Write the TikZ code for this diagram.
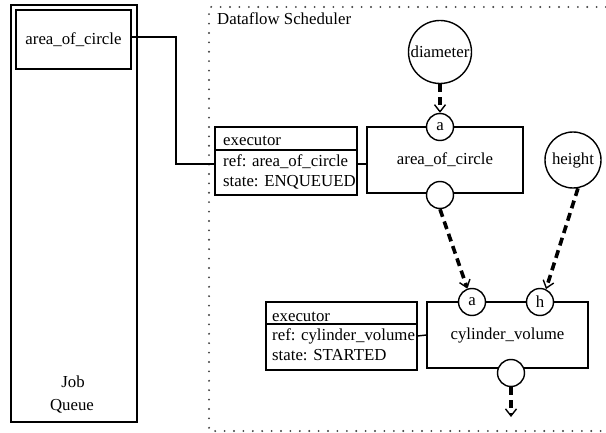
\documentclass[tikz,border=0pt]{standalone}
\usepackage{fontspec}
\setmainfont{Liberation Serif}
\usetikzlibrary{arrows.meta}
\begin{document}
\begin{tikzpicture}[x=1pt,y=-1pt,
  every node/.style={font=\fontsize{16.8}{20}\selectfont},
  box/.style={draw, line width=1.4pt, rectangle, inner sep=0pt},
  port/.style={draw, line width=1.4pt, circle, fill=white, minimum size=27pt, inner sep=0pt},
  datum/.style={draw, line width=1.4pt, circle, fill=white, inner sep=0pt},
  txt/.style={anchor=base west, inner sep=0pt},
  flow/.style={line width=3.6pt, dash pattern=on 8pt off 5pt,
    -{Straight Barb[length=7pt,width=11pt,line width'=1.4pt]}},
  wire/.style={line width=1.4pt},
  frame/.style={line width=2.1pt, dash pattern=on 0pt off 9.4pt, line cap=round, black!75}]
\useasboundingbox (0,0) rectangle (606,433);

% job queue
\node[box, line width=2pt, minimum width=126pt, minimum height=417pt] (queue) at (74,213.5) {};
\node[box, minimum width=115pt, minimum height=59pt] (jqitem) at (73.5,39.5) {area\_of\_circle};
\node[anchor=base] (jq1) at (73,387) {Job};
\node[anchor=base] (jq2) at (72,410) {Queue};

% scheduler frame
\draw[frame] (606,7) -- (209,7) -- (209,431) -- (606,431);
\node[txt] (title) at (217,25) {Dataflow Scheduler};

% first executor
\node[box, minimum width=142pt, minimum height=68pt] (ex1) at (286,161) {};
\draw[wire] (ex1.west |- 0,150) -- (ex1.east |- 0,150);
\node[txt] (ex1h) at (223,146) {executor};
\node[txt] (ex1r) at (223,166.5) {ref: area\_of\_circle};
\node[txt] (ex1s) at (223,186.5) {state: ENQUEUED};

% area_of_circle task
\node[box, minimum width=156pt, minimum height=66pt] (area) at (445,160) {area\_of\_circle};
\node[port] (a1) at (440,127) {a};
\node[port] (o1) at (440,195) {};

% second executor
\node[box, minimum width=151pt, minimum height=68pt] (ex2) at (341.5,336) {};
\draw[wire] (ex2.west |- 0,324) -- (ex2.east |- 0,324);
\node[txt] (ex2h) at (272,321.5) {executor};
\node[txt] (ex2r) at (272,340.5) {ref: cylinder\_volume};
\node[txt] (ex2s) at (272,360.5) {state: STARTED};

% cylinder_volume task
\node[box, minimum width=161pt, minimum height=66pt] (cyl) at (507.5,335) {cylinder\_volume};
\node[port] (ca) at (472,302) {a};
\node[port] (ch) at (540,302) {h};
\node[port] (co) at (511,373) {};

% data inputs
\node[datum, minimum size=63pt] (diam) at (440,52) {diameter};
\node[datum, minimum size=56pt] (height) at (573,160) {height};

% wires
\coordinate (bend) at (176,164);
\draw[wire] ([yshift=2.5pt]jqitem.east) -| (bend) -- (ex1.west |- bend);
\draw[wire] (ex1.east |- bend) -- (area.west |- bend);
\draw[wire] (ex2.east) -- (cyl.west);

% data flow
\coordinate (outend) at (511,417);
\draw[flow] (diam.south) -- (a1.north);
\draw[flow] (o1.south) -- (ca);
\draw[flow] (height.-80) -- (ch.65);
\draw[flow] (co.south) -- (outend);
\end{tikzpicture}
\end{document}
